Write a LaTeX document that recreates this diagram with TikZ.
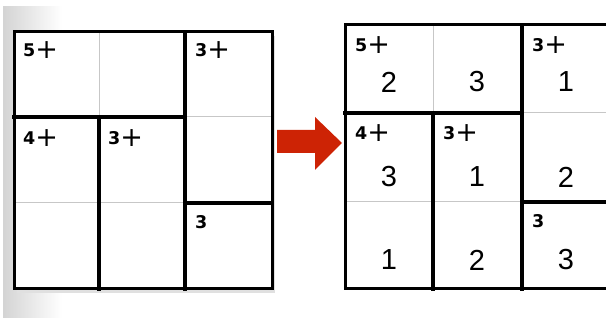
\documentclass[tikz,border=0pt]{standalone}
\usepackage{fontspec}
\setmainfont{Liberation Sans}
\newfontfamily\labfont{DejaVu Sans}
\begin{document}
\begin{tikzpicture}[x=1pt,y=-1pt,
  thin line/.style={draw=black!22,line width=1pt},
  thick line/.style={draw=black,line width=4pt,line cap=rect},
  border/.style={draw=black,line width=3pt},
  cage/.style={anchor=north west,inner sep=0pt,font=\labfont\bfseries\fontsize{17.5}{17.5}\selectfont},
  val/.style={anchor=center,inner sep=0pt,font=\fontsize{29}{29}\selectfont}]
\useasboundingbox (0,0) rectangle (606,320);
\fill[white] (0,0) rectangle (606,320);
\shade[left color=black!17,right color=white] (3,7) rectangle (62,318);
\fill[white] (62,7) rectangle (300,318);
\newcommand\plusmark{\raisebox{-1.4pt}{\textmd{\fontsize{27}{27}\selectfont+}}}
% ---- left grid ----
\fill[black!12] (17,36) rectangle (275,293);
\fill[white] (14,32) rectangle (272,289);
\draw[thin line] (99,32) -- (99,117);
\draw[thin line] (185,117) -- (272,117);
\draw[thin line] (14,203) -- (185,203);
\draw[thick line] (185,32) -- (185,289);
\draw[thick line] (14,117) -- (185,117);
\draw[thick line] (99,117) -- (99,289);
\draw[thick line] (185,203) -- (272,203);
\draw[border] (14,32) rectangle (272,289);
\node[cage] (l1) at (23,41) {5\plusmark};
\node[cage] (l2) at (195,41) {3\plusmark};
\node[cage] (l3) at (23,129) {4\plusmark};
\node[cage] (l4) at (108,129) {3\plusmark};
\node[cage] (l5) at (195,215) {3};
% ---- arrow ----
\fill[fill={rgb,255:red,205;green,35;blue,5}]
  (277,130) -- (315,130) -- (315,117) -- (342,143) -- (315,170) -- (315,153) -- (277,153) -- cycle;
% ---- right grid ----
\begin{scope}
\clip (300,0) rectangle (606,320);
\fill[white] (345,25) rectangle (620,289);
\draw[thin line] (433,25) -- (433,113);
\draw[thin line] (522,113) -- (620,113);
\draw[thin line] (345,202) -- (522,202);
\draw[thick line] (522,25) -- (522,289);
\draw[thick line] (345,113) -- (522,113);
\draw[thick line] (433,113) -- (433,289);
\draw[thick line] (522,202) -- (620,202);
\draw[border] (345,25) -- (620,25);
\draw[border] (345,289) -- (620,289);
\draw[border] (345,23.5) -- (345,290.5);
\end{scope}
\node[cage] (r1) at (355,36) {5\plusmark};
\node[cage] (r2) at (532,36) {3\plusmark};
\node[cage] (r3) at (355,124) {4\plusmark};
\node[cage] (r4) at (443,124) {3\plusmark};
\node[cage] (r5) at (532,214) {3};
\node[val] (v11) at (389,82) {2};
\node[val] (v12) at (477,82) {3};
\node[val] (v13) at (566,82) {1};
\node[val] (v21) at (389,177) {3};
\node[val] (v22) at (477,177) {1};
\node[val] (v23) at (566,177) {2};
\node[val] (v31) at (389,260) {1};
\node[val] (v32) at (477,260) {2};
\node[val] (v33) at (566,260) {3};
\end{tikzpicture}
\end{document}
